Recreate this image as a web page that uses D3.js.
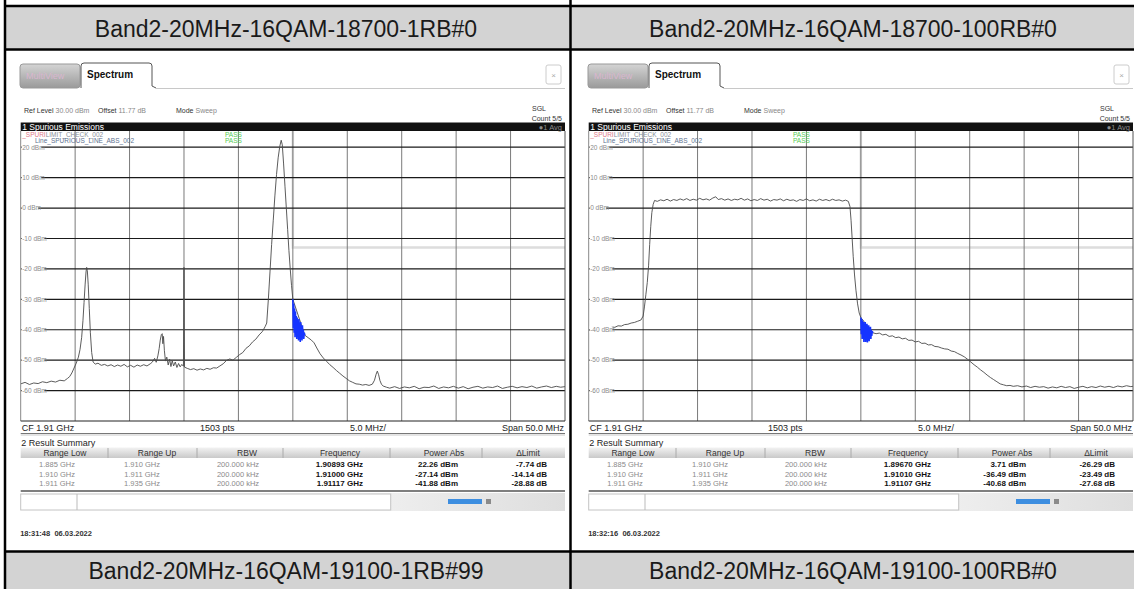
<!DOCTYPE html>
<html><head><meta charset="utf-8">
<script src="https://cdn.jsdelivr.net/npm/d3@7"></script>
<style>
body{margin:0;background:#fff;}
svg{display:block;}
text{font-family:"Liberation Sans",Arial,sans-serif;}
</style>
</head><body>
<svg id="c" width="1134" height="589"></svg>
<script>
// ---------------- data ----------------
const topTitles = ["Band2-20MHz-16QAM-18700-1RB#0", "Band2-20MHz-16QAM-18700-100RB#0"];
const bottomTitles = ["Band2-20MHz-16QAM-19100-1RB#99", "Band2-20MHz-16QAM-19100-100RB#0"];
const spanStartMHz = 1885, spanStopMHz = 1935;
const refLevel = 30, bottomLevel = -70;
const yTicks = [20, 10, 0, -10, -20, -30, -40, -50, -60];
const yTickLabels = ["20 dBm", "10 dBm", "0 dBm", "-10 dBm", "-20 dBm", "-30 dBm", "-40 dBm", "-50 dBm", "-60 dBm"];
const xGrid = [1890, 1895, 1900, 1905, 1910, 1915, 1920, 1925, 1930];
const limitLine = [[1885, 30], [1910, 30], [1910, -13], [1935, -13]];

// trace points: [MHz above 1.885 GHz, dBm]
const trace1RB = [[0.0,-57.8],[0.4,-57.3],[0.8,-58.0],[1.2,-57.5],[1.6,-57.7],[2.0,-57.1],[2.4,-57.4],[2.8,-56.9],[3.2,-57.2],[3.6,-56.6],[4.0,-56.8],[4.3,-56.0],[4.5,-55.4],[4.7,-54.2],[4.9,-52.6],[5.1,-51.0],[5.3,-49.0],[5.45,-46.5],[5.6,-42.5],[5.72,-37],[5.82,-31],[5.92,-25],[6.0,-21],[6.06,-19.5],[6.12,-20.5],[6.2,-25],[6.3,-33],[6.4,-41],[6.52,-47.5],[6.65,-50.6],[6.85,-51.3],[7.1,-51.0],[7.4,-51.7],[7.7,-51.4],[8.0,-51.9],[8.3,-51.5],[8.6,-52.1],[8.9,-51.6],[9.2,-52.0],[9.5,-51.4],[9.8,-52.2],[10.1,-51.7],[10.4,-52.3],[10.7,-51.6],[11.0,-52.0],[11.3,-51.5],[11.6,-51.9],[11.9,-51.2],[12.1,-50.6],[12.3,-49.4],[12.45,-50.7],[12.6,-48.6],[12.72,-46.2],[12.82,-43.4],[12.92,-41.6],[13.0,-41.3],[13.06,-44.6],[13.12,-42.2],[13.2,-46.9],[13.3,-50.3],[13.42,-49.0],[13.55,-51.6],[13.68,-49.7],[13.8,-52.1],[13.92,-50.2],[14.05,-51.9],[14.2,-50.6],[14.35,-52.4],[14.5,-51.1],[14.65,-52.2],[14.8,-51.4],[14.95,-52.0],[15.0,-19.5],[15.05,-52.3],[15.3,-52.7],[15.6,-53.1],[15.9,-52.8],[16.2,-53.3],[16.5,-52.9],[16.8,-53.2],[17.1,-52.7],[17.4,-53.0],[17.7,-52.5],[18.0,-52.6],[18.3,-51.9],[18.6,-51.2],[18.9,-50.1],[19.2,-49.6],[19.5,-50.0],[19.8,-49.1],[20.1,-48.2],[20.4,-47.5],[20.7,-46.1],[21.0,-45.3],[21.3,-44.0],[21.6,-43.1],[21.9,-41.7],[22.2,-40.6],[22.45,-39.0],[22.6,-37.8],[22.75,-30],[22.9,-21],[23.05,-12],[23.2,-4],[23.35,4],[23.5,11],[23.65,16.5],[23.8,20.3],[23.93,22.3],[24.03,20.8],[24.15,14.5],[24.28,7],[24.4,0],[24.52,-7],[24.64,-14],[24.76,-20],[24.88,-25.5],[25.0,-30],[26.1,-41.8],[26.4,-42.6],[26.7,-43.4],[26.95,-44.3],[27.2,-46.0],[27.5,-47.9],[27.8,-49.3],[28.1,-50.4],[28.4,-51.5],[28.7,-52.4],[29.0,-53.4],[29.3,-54.3],[29.6,-55.2],[29.9,-56.0],[30.2,-56.8],[30.5,-57.3],[30.8,-57.8],[31.1,-57.9],[31.4,-58.2],[31.7,-58.0],[32.0,-58.3],[32.3,-57.9],[32.5,-56.6],[32.65,-54.6],[32.76,-53.6],[32.88,-54.8],[33.0,-56.7],[33.15,-58.0],[33.3,-58.5],[33.6,-58.9],[33.9,-59.2],[34.35,-58.7],[34.8,-59.3],[35.25,-58.8],[35.7,-59.1],[36.15,-58.6],[36.6,-59.4],[37.05,-58.9],[37.5,-59.0],[37.95,-58.5],[38.4,-59.3],[38.85,-58.8],[39.3,-59.1],[39.75,-58.6],[40.2,-59.2],[40.65,-58.7],[41.1,-59.4],[41.55,-58.9],[42.0,-58.6],[42.45,-59.2],[42.9,-58.8],[43.35,-59.0],[43.8,-58.5],[44.25,-59.3],[44.7,-58.9],[45.15,-58.6],[45.6,-59.1],[46.05,-58.7],[46.5,-59.0],[46.95,-58.5],[47.4,-59.2],[47.85,-58.8],[48.3,-58.5],[48.75,-59.0],[49.2,-58.6],[49.6,-58.9],[50.0,-58.7]];
const blue1RB = [[25.0,-30],[25.04,-39.5],[25.08,-31.5],[25.12,-41],[25.16,-33],[25.2,-42.5],[25.24,-34],[25.28,-40.5],[25.32,-35.5],[25.36,-43],[25.4,-36],[25.44,-41.5],[25.48,-37],[25.52,-43.5],[25.56,-36.5],[25.6,-42],[25.64,-38],[25.68,-44],[25.72,-37.5],[25.76,-42.5],[25.8,-39],[25.84,-43.5],[25.88,-38.5],[25.92,-42],[25.96,-40],[26.0,-43],[26.05,-41],[26.1,-41.8]];
const trace100RB = [[0.0,-40.3],[0.3,-39.9],[0.6,-40.1],[0.9,-39.6],[1.2,-39.8],[1.5,-39.4],[1.8,-39.6],[2.1,-39.1],[2.4,-39.2],[2.7,-38.7],[3.0,-38.8],[3.3,-38.3],[3.6,-38.2],[3.9,-37.8],[4.2,-37.6],[4.5,-37.2],[4.8,-36.8],[5.0,-35.5],[5.12,-32.5],[5.25,-28.5],[5.38,-24.5],[5.5,-19],[5.6,-12],[5.7,-6],[5.8,-1.5],[5.92,1.2],[6.05,2.5],[6.3,2.2],[6.6,2.7],[6.9,2.4],[7.2,2.9],[7.5,2.3],[7.8,2.8],[8.1,2.5],[8.4,3.0],[8.7,2.6],[9.0,3.1],[9.3,2.5],[9.6,2.9],[9.9,2.6],[10.2,3.2],[10.5,2.7],[10.8,3.0],[11.1,2.6],[11.4,3.3],[11.67,3.71],[11.9,2.8],[12.2,3.1],[12.5,2.6],[12.8,3.0],[13.1,2.5],[13.4,2.9],[13.7,2.7],[14.0,3.2],[14.3,2.6],[14.6,3.0],[14.9,2.4],[15.2,2.8],[15.5,2.5],[15.8,3.1],[16.1,2.6],[16.4,2.9],[16.7,2.3],[17.0,2.8],[17.3,2.6],[17.6,3.0],[17.9,2.4],[18.2,2.9],[18.5,2.5],[18.8,2.7],[19.1,2.2],[19.4,2.8],[19.7,2.5],[20.0,3.0],[20.3,2.4],[20.6,2.7],[20.9,2.3],[21.2,2.9],[21.5,2.5],[21.8,2.8],[22.1,2.4],[22.4,2.9],[22.7,2.5],[23.0,2.7],[23.3,2.3],[23.6,2.6],[23.85,2.2],[24.0,0.5],[24.1,-4],[24.2,-10],[24.3,-16],[24.42,-22],[24.55,-27],[24.7,-31.5],[24.85,-34.5],[25.0,-36.0],[26.1,-41.0],[26.4,-41.3],[26.7,-41.1],[27.0,-41.7],[27.3,-41.5],[27.6,-42.2],[27.9,-42.0],[28.2,-42.6],[28.5,-42.4],[28.8,-43.0],[29.1,-42.8],[29.4,-43.5],[29.7,-43.4],[30.0,-44.0],[30.3,-43.8],[30.6,-44.5],[30.9,-44.4],[31.2,-45.0],[31.5,-44.9],[31.8,-45.5],[32.1,-45.6],[32.4,-46.0],[32.7,-46.3],[33.0,-46.4],[33.3,-47.0],[33.6,-47.2],[33.9,-47.8],[34.2,-48.3],[34.5,-48.9],[34.8,-49.7],[35.1,-50.6],[35.4,-51.5],[35.7,-52.3],[36.0,-53.2],[36.3,-54.0],[36.6,-54.9],[36.9,-55.7],[37.2,-56.4],[37.5,-57.1],[37.8,-57.8],[38.1,-58.1],[38.4,-58.4],[38.7,-58.3],[39.0,-58.6],[39.4,-58.4],[39.8,-58.8],[40.2,-58.5],[40.6,-59.0],[41.0,-58.6],[41.4,-58.9],[41.8,-58.7],[42.2,-59.2],[42.6,-58.8],[43.0,-59.1],[43.4,-58.6],[43.8,-59.0],[44.2,-58.7],[44.6,-59.3],[45.0,-58.9],[45.4,-58.6],[45.8,-59.1],[46.2,-58.7],[46.6,-59.0],[47.0,-58.5],[47.4,-58.9],[47.8,-58.6],[48.2,-59.0],[48.6,-58.5],[49.0,-58.8],[49.4,-58.4],[49.8,-58.7],[50.0,-58.6]];
const blue100RB = [[25.0,-36.0],[25.04,-41.5],[25.08,-36.5],[25.12,-43],[25.16,-37],[25.2,-42.5],[25.24,-37.5],[25.28,-44],[25.32,-38],[25.36,-43],[25.4,-37.5],[25.44,-44],[25.48,-38.5],[25.52,-43.5],[25.56,-38],[25.6,-44.2],[25.64,-39],[25.68,-43],[25.72,-38.5],[25.76,-43.8],[25.8,-39.5],[25.84,-42.5],[25.88,-39],[25.92,-43],[25.96,-40],[26.0,-42],[26.05,-40.5],[26.1,-41.0]];

const summaryHeaders = ["Range Low", "Range Up", "RBW", "Frequency", "Power Abs", "\u0394Limit"];
const rangeLow = ["1.885 GHz", "1.910 GHz", "1.911 GHz"];
const rangeUp = ["1.910 GHz", "1.911 GHz", "1.935 GHz"];
const rbw = ["200.000 kHz", "200.000 kHz", "200.000 kHz"];
const freq1RB = ["1.90893 GHz", "1.91000 GHz", "1.91117 GHz"];
const power1RB = ["22.26 dBm", "-27.14 dBm", "-41.88 dBm"];
const delta1RB = ["-7.74 dB", "-14.14 dB", "-28.88 dB"];
const freq100RB = ["1.89670 GHz", "1.91010 GHz", "1.91107 GHz"];
const power100RB = ["3.71 dBm", "-36.49 dBm", "-40.68 dBm"];
const delta100RB = ["-26.29 dB", "-23.49 dB", "-27.68 dB"];
const timestamps = ["18:31:48  06.03.2022", "18:32:16  06.03.2022"];

const panels = [
  {trace: trace1RB, blue: blue1RB, freq: freq1RB, power: power1RB, delta: delta1RB, time: timestamps[0]},
  {trace: trace100RB, blue: blue100RB, freq: freq100RB, power: power100RB, delta: delta100RB, time: timestamps[1]}
];

// ---------------- drawing ----------------
const W = 1134, H = 589;
const svg = d3.select("#c");
const defs = svg.append("defs");
const hg = defs.append("linearGradient").attr("id", "hdr").attr("x1", 0).attr("y1", 0).attr("x2", 0).attr("y2", 1);
hg.append("stop").attr("offset", 0).attr("stop-color", "#f2f2f2");
hg.append("stop").attr("offset", 1).attr("stop-color", "#c9c9c9");
const tg = defs.append("linearGradient").attr("id", "mv").attr("x1", 0).attr("y1", 0).attr("x2", 0).attr("y2", 1);
tg.append("stop").attr("offset", 0).attr("stop-color", "#d4d4d4");
tg.append("stop").attr("offset", 1).attr("stop-color", "#9a9a9a");
const bg2 = defs.append("linearGradient").attr("id", "bar").attr("x1", 0).attr("y1", 0).attr("x2", 1).attr("y2", 0);
bg2.append("stop").attr("offset", 0).attr("stop-color", "#ffffff");
bg2.append("stop").attr("offset", 0.55).attr("stop-color", "#f4f4f4");
bg2.append("stop").attr("offset", 1).attr("stop-color", "#dedede");

svg.append("rect").attr("width", W).attr("height", H).attr("fill", "#fff");

// table structure
svg.append("rect").attr("x", 5).attr("y", 7).attr("width", W - 5).attr("height", 42).attr("fill", "#d3d3d3");
svg.append("rect").attr("x", 5).attr("y", 552).attr("width", W - 5).attr("height", 37).attr("fill", "#d3d3d3");
const cellCenters = [286, 853];
topTitles.forEach((t, i) => {
  svg.append("text").attr("x", cellCenters[i]).attr("y", 36.5).attr("text-anchor", "middle")
    .attr("font-size", 23).attr("fill", "#1a1a1a").text(t);
});
bottomTitles.forEach((t, i) => {
  svg.append("text").attr("x", cellCenters[i]).attr("y", 578.5).attr("text-anchor", "middle")
    .attr("font-size", 23).attr("fill", "#1a1a1a").text(t);
});
const tl = svg.append("g").attr("stroke", "#000").attr("stroke-width", 2.5);
[6, 49.5, 551.5].forEach(yy => tl.append("line").attr("x1", 4).attr("x2", W).attr("y1", yy).attr("y2", yy));
[5, 570.5].forEach(xx => tl.append("line").attr("x1", xx).attr("x2", xx).attr("y1", 0).attr("y2", H));

const panelOffsets = [0, 568];

panels.forEach((p, i) => {
  const g = svg.append("g").attr("transform", `translate(${panelOffsets[i]},0)`);
  const px0 = 20.7, px1 = 565, pyTop = 131, pyBot = 421;
  const x = d3.scaleLinear().domain([spanStartMHz, spanStopMHz]).range([px0, px1]);
  const y = d3.scaleLinear().domain([bottomLevel, refLevel]).range([pyBot, 116.8]);

  // --- tab bar ---
  g.append("rect").attr("x", 20).attr("y", 64).attr("width", 60).attr("height", 24).attr("rx", 3)
    .attr("fill", "url(#mv)").attr("stroke", "#999");
  g.append("text").attr("x", 26).attr("y", 79).attr("font-size", 9).attr("fill", "#d9b6cf").text("MultiView");
  g.append("path").attr("d", "M81,88 L81,66 Q81,63 84,63 L149,63 Q152,63 152,66 L152,86 L156,88")
    .attr("fill", "#fff").attr("stroke", "#555").attr("stroke-width", 1);
  g.append("text").attr("x", 87).attr("y", 78).attr("font-size", 10).attr("font-weight", "bold").attr("fill", "#111").text("Spectrum");
  g.append("line").attr("x1", 156).attr("x2", 565).attr("y1", 88.5).attr("y2", 88.5).attr("stroke", "#c8c8c8");
  g.append("rect").attr("x", 546).attr("y", 65).attr("width", 15).attr("height", 19).attr("rx", 2)
    .attr("fill", "#fff").attr("stroke", "#ccc");
  g.append("text").attr("x", 553.5).attr("y", 78).attr("text-anchor", "middle").attr("font-size", 8).attr("fill", "#aaa").text("\u00d7");

  // --- info line ---
  const info = g.append("g").attr("font-size", 7).attr("fill", "#333");
  info.append("text").attr("x", 24).attr("y", 113).html('Ref Level <tspan fill="#888">30.00 dBm</tspan>');
  info.append("text").attr("x", 98).attr("y", 113).html('Offset <tspan fill="#888">11.77 dB</tspan>');
  info.append("text").attr("x", 176).attr("y", 113).html('Mode <tspan fill="#888">Sweep</tspan>');
  info.append("text").attr("x", 532).attr("y", 111).text("SGL");
  info.append("text").attr("x", 562).attr("y", 120.5).attr("text-anchor", "end").text("Count 5/5");

  // --- diagram title bar ---
  g.append("rect").attr("x", px0).attr("y", 122.5).attr("width", px1 - px0).attr("height", 8.5).attr("fill", "#111");
  g.append("text").attr("x", px0 + 1.5).attr("y", 129.8).attr("font-size", 8.5).attr("fill", "#fff").text("1 Spurious Emissions");
  g.append("text").attr("x", px1 - 3).attr("y", 129.6).attr("text-anchor", "end").attr("font-size", 7.5).attr("fill", "#8a8a8a").text("\u25cf1 Avg");

  // --- plot area ---
  const clipId = "clip" + i;
  defs.append("clipPath").attr("id", clipId).append("rect")
    .attr("x", px0).attr("y", pyTop).attr("width", px1 - px0).attr("height", pyBot - pyTop);
  const plot = g.append("g").attr("clip-path", `url(#${clipId})`);

  // limit line
  plot.append("path").datum(limitLine)
    .attr("d", d3.line().x(d => x(d[0])).y(d => y(d[1])))
    .attr("fill", "none").attr("stroke", "#dddddd").attr("stroke-width", 2.5);

  // vertical grid
  plot.append("g").selectAll("line").data(xGrid).join("line")
    .attr("x1", d => x(d)).attr("x2", d => x(d)).attr("y1", pyTop).attr("y2", pyBot)
    .attr("stroke", "#7a7a7a").attr("stroke-width", 1);
  // horizontal grid
  plot.append("g").selectAll("line").data(yTicks).join("line")
    .attr("x1", px0).attr("x2", px1).attr("y1", d => y(d)).attr("y2", d => y(d))
    .attr("stroke", "#1a1a1a").attr("stroke-width", 1.2);
  // frame
  g.append("line").attr("x1", px0).attr("x2", px0).attr("y1", pyTop).attr("y2", pyBot).attr("stroke", "#888");
  g.append("line").attr("x1", px1).attr("x2", px1).attr("y1", pyTop).attr("y2", pyBot).attr("stroke", "#555");
  g.append("line").attr("x1", px0).attr("x2", px1).attr("y1", pyBot).attr("y2", pyBot).attr("stroke", "#222");

  // y labels
  const yl = g.append("g").selectAll("g").data(yTicks).join("g");
  yl.append("rect").attr("x", px0 + 1).attr("y", d => y(d) - 3.5).attr("width", (d, k) => yTickLabels[k].length * 3.1 + 1).attr("height", 7).attr("fill", "#fff");
  yl.append("text").attr("x", px0 + 1.5).attr("y", d => y(d) + 2.3).attr("font-size", 6.5).attr("fill", "#8a8a8a")
    .text((d, k) => yTickLabels[k]);

  // limit check text
  const lt = g.append("g").attr("font-size", 6.5);
  lt.append("text").attr("x", px0 + 1.5).attr("y", 136.5).html('<tspan fill="#e07a8a">_SPURI</tspan><tspan fill="#8a8f99">LIMIT_CHECK_002</tspan>');
  lt.append("text").attr("x", 225).attr("y", 136.5).attr("fill", "#55cc55").text("PASS");
  lt.append("text").attr("x", 35).attr("y", 143).attr("fill", "#5e7291").text("Line_SPURIOUS_LINE_ABS_002");
  lt.append("text").attr("x", 225).attr("y", 143).attr("fill", "#55cc55").text("PASS");

  // traces
  const line = d3.line().x(d => x(spanStartMHz + d[0])).y(d => y(d[1]));
  plot.append("path").attr("d", line(p.trace)).attr("fill", "none").attr("stroke", "#4a4a4a").attr("stroke-width", 0.9);
  plot.append("path").attr("d", line(p.blue)).attr("fill", "none").attr("stroke", "#1534ff").attr("stroke-width", 1.6);

  // status line under diagram
  const st = g.append("g").attr("font-size", 9).attr("fill", "#222");
  st.append("text").attr("x", px0 + 1).attr("y", 430.5).text("CF 1.91 GHz");
  st.append("text").attr("x", 200).attr("y", 430.5).text("1503 pts");
  st.append("text").attr("x", 350).attr("y", 430.5).text("5.0 MHz/");
  st.append("text").attr("x", px1 - 1).attr("y", 430.5).attr("text-anchor", "end").text("Span 50.0 MHz");
  g.append("line").attr("x1", px0).attr("x2", px1).attr("y1", 433.5).attr("y2", 433.5).attr("stroke", "#777");
  g.append("rect").attr("x", px0).attr("y", 434).attr("width", px1 - px0).attr("height", 2).attr("fill", "#e4e4e4");

  // result summary
  g.append("text").attr("x", px0 + 0.5).attr("y", 445.5).attr("font-size", 9).attr("fill", "#222").text("2 Result Summary");
  g.append("rect").attr("x", px0).attr("y", 447.5).attr("width", px1 - px0).attr("height", 10.5).attr("fill", "url(#hdr)");
  const seps = [108, 197, 283, 390, 482];
  g.append("g").selectAll("line").data(seps).join("line")
    .attr("x1", d => d).attr("x2", d => d).attr("y1", 448).attr("y2", 458).attr("stroke", "#aaa");
  const hdrX = [65, 157, 247, 340, 444, 528];
  summaryHeaders.forEach((h, k) => {
    g.append("text").attr("x", hdrX[k]).attr("y", 456).attr("text-anchor", "middle").attr("font-size", 8.5).attr("fill", "#333").text(h);
  });
  const rowY = [467, 476.5, 486];
  const cols = [rangeLow, rangeUp, rbw];
  const colX = [57, 142, 238];
  cols.forEach((c, k) => c.forEach((v, r) => {
    g.append("text").attr("x", colX[k]).attr("y", rowY[r]).attr("text-anchor", "middle").attr("font-size", 7.5).attr("fill", "#8a8a8a").text(v);
  }));
  const boldCols = [p.freq, p.power, p.delta];
  const boldX = [363, 458, 547];
  boldCols.forEach((c, k) => c.forEach((v, r) => {
    g.append("text").attr("x", boldX[k]).attr("y", rowY[r]).attr("text-anchor", "end").attr("font-size", 8)
      .attr("font-family", "DejaVu Sans").attr("font-weight", "bold").attr("fill", "#111").text(v);
  }));
  g.append("line").attr("x1", px0).attr("x2", px1).attr("y1", 491).attr("y2", 491).attr("stroke", "#555").attr("stroke-width", 1.5);

  // bottom control bar
  g.append("rect").attr("x", px0).attr("y", 493).attr("width", px1 - px0).attr("height", 18).attr("fill", "url(#bar)");
  g.append("rect").attr("x", px0).attr("y", 494).attr("width", 370).attr("height", 16).attr("fill", "#fff").attr("stroke", "#c4c4c4");
  g.append("line").attr("x1", 77).attr("x2", 77).attr("y1", 494).attr("y2", 510).attr("stroke", "#bbb");
  g.append("rect").attr("x", 448).attr("y", 499).attr("width", 34).attr("height", 5).attr("fill", "#3d8ee0");
  g.append("rect").attr("x", 486).attr("y", 499).attr("width", 5).attr("height", 5).attr("fill", "#8a8a8a");

  // timestamp
  g.append("text").attr("x", px0 - 0.5).attr("y", 536).attr("font-size", 7.5).attr("font-weight", "bold")
    .attr("font-family", "DejaVu Sans").attr("fill", "#333").attr("xml:space", "preserve").text(p.time);
});
</script>
</body></html>
